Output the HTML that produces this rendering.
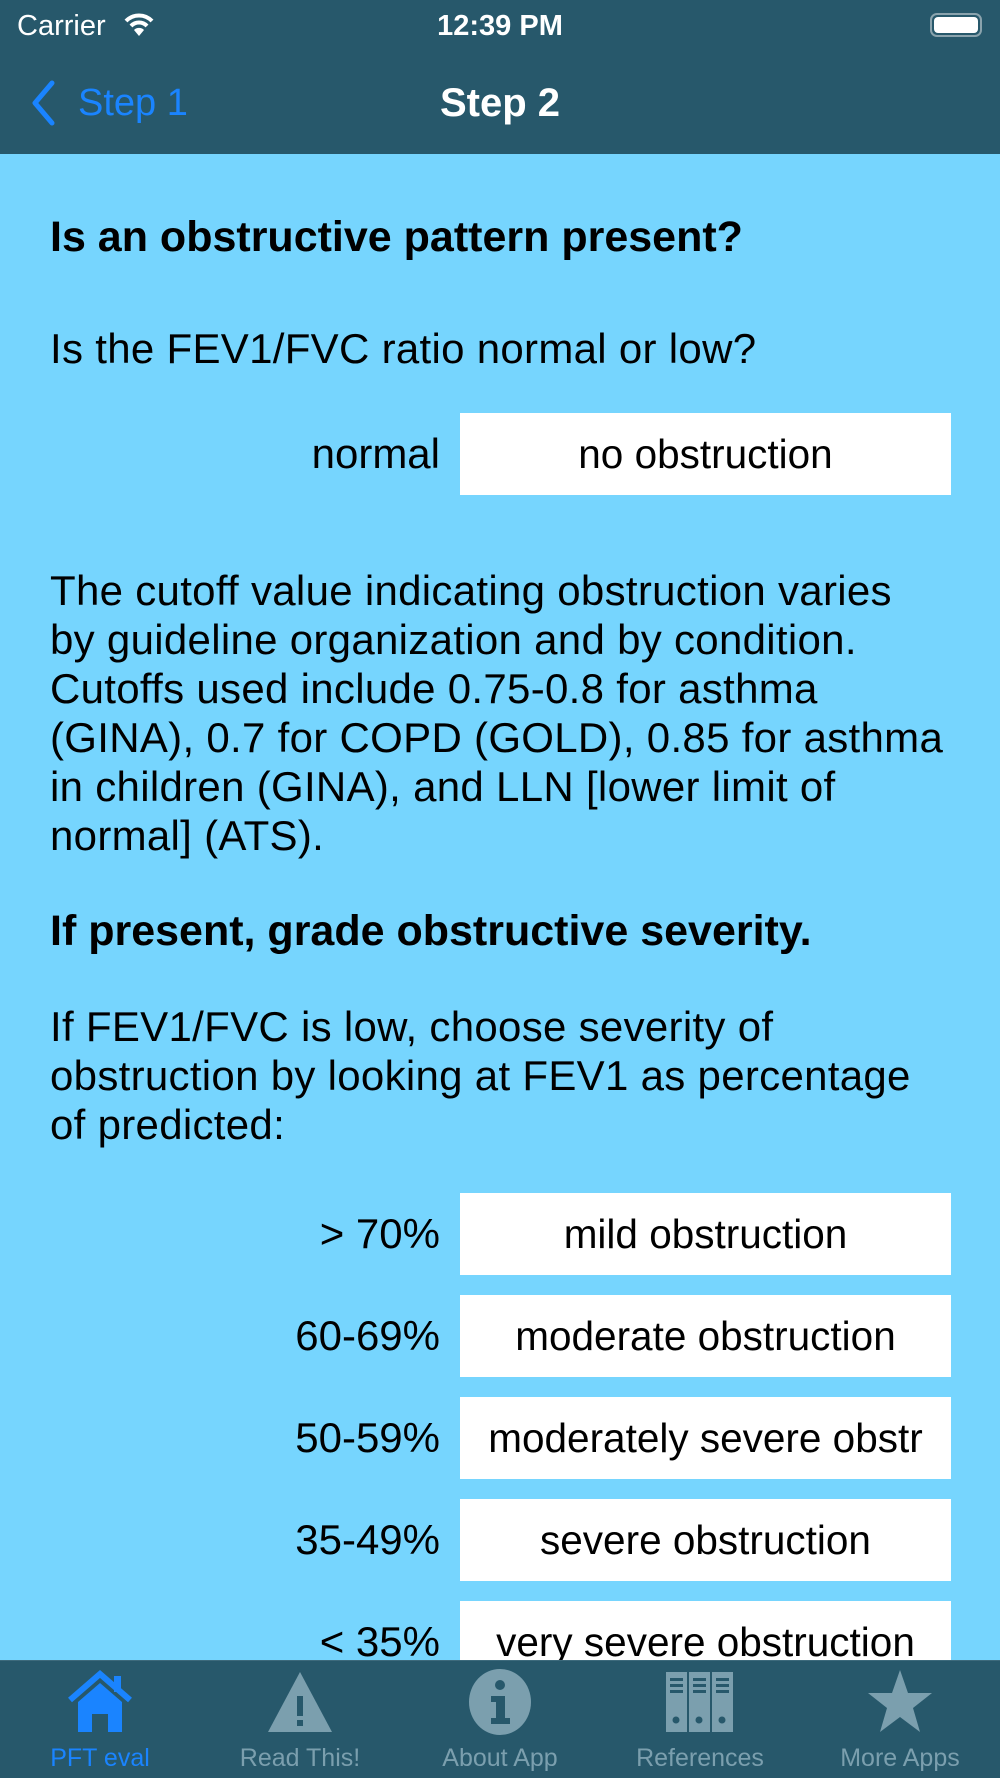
<!DOCTYPE html>
<html><head><meta charset="utf-8"><style>
*{margin:0;padding:0;box-sizing:border-box}
body{width:1000px;height:1778px;background:#76d5fe;font-family:"Liberation Sans",sans-serif;position:relative;overflow:hidden;color:#000}
.abs{position:absolute;white-space:nowrap}
#top{position:absolute;left:0;top:0;width:1000px;height:154px;background:#27586b}
#tab{position:absolute;left:0;top:1660px;width:1000px;height:118px;background:#27586b;border-top:1px solid #3d6a7c}
.p{font-size:42px;line-height:49px;left:50px;letter-spacing:0.3px}
.h{font-size:43px;font-weight:bold;left:50px;line-height:49px}
.box{position:absolute;left:460px;width:491px;height:82px;background:#fff;font-size:40.5px;text-align:center;line-height:82px}
.lab{position:absolute;right:560px;font-size:42px;line-height:82px;text-align:right}
.tl{position:absolute;top:1744px;width:200px;text-align:center;font-size:25px;color:#7b9fae}
</style></head><body>
<div id="top">
<div class="abs" style="left:17px;top:10px;font-size:29px;color:#fff">Carrier</div>
<svg class="abs" style="left:124px;top:12px" width="30" height="26" viewBox="0 0 30 26"><path d="M2 9 A18 18 0 0 1 28 9" stroke="#fff" stroke-width="4" fill="none"/><path d="M7 14 A11 11 0 0 1 23 14" stroke="#fff" stroke-width="4" fill="none"/><path d="M15 24 L10 18 A7 7 0 0 1 20 18Z" fill="#fff"/></svg>
<div class="abs" style="left:0;width:1000px;text-align:center;top:10px;font-size:29px;color:#fff;font-weight:bold">12:39 PM</div>
<div class="abs" style="left:930px;top:13px;width:52px;height:24px;border:2px solid #8aa3ad;border-radius:7px;padding:2px"><div style="width:100%;height:100%;background:#fff;border-radius:4px"></div></div>
<svg class="abs" style="left:30px;top:80px" width="26" height="46" viewBox="0 0 26 46"><path d="M22 3 L5 23 L22 43" stroke="#1a84ff" stroke-width="5" fill="none" stroke-linecap="round" stroke-linejoin="round"/></svg>
<div class="abs" style="left:78px;top:82px;font-size:38px;color:#1a84ff">Step 1</div>
<div class="abs" style="left:0;width:1000px;text-align:center;top:81px;font-size:40px;color:#fff;font-weight:bold">Step 2</div>
</div>

<div class="abs h" style="top:213px">Is an obstructive pattern present?</div>
<div class="abs p" style="top:324px">Is the FEV1/FVC ratio normal or low?</div>
<div class="lab" style="top:413px">normal</div>
<div class="box" style="top:413px">no obstruction</div>
<div class="abs p" style="top:566px">The cutoff value indicating obstruction varies<br>by guideline organization and by condition.<br>Cutoffs used include 0.75-0.8 for asthma<br>(GINA), 0.7 for COPD (GOLD), 0.85 for asthma<br>in children (GINA), and LLN [lower limit of<br>normal] (ATS).</div>
<div class="abs h" style="top:907px">If present, grade obstructive severity.</div>
<div class="abs p" style="top:1002px">If FEV1/FVC is low, choose severity of<br>obstruction by looking at FEV1 as percentage<br>of predicted:</div>
<div class="lab" style="top:1193px">&gt; 70%</div><div class="box" style="top:1193px">mild obstruction</div>
<div class="lab" style="top:1295px">60-69%</div><div class="box" style="top:1295px">moderate obstruction</div>
<div class="lab" style="top:1397px">50-59%</div><div class="box" style="top:1397px">moderately severe obstr</div>
<div class="lab" style="top:1499px">35-49%</div><div class="box" style="top:1499px">severe obstruction</div>
<div class="lab" style="top:1601px">&lt; 35%</div><div class="box" style="top:1601px">very severe obstruction</div>

<div id="tab"></div>
<svg class="abs" style="left:66px;top:1670px" width="68" height="64" viewBox="0 0 68 64"><path d="M4 30 L34 4 L64 30" stroke="#1a84ff" stroke-width="6" fill="none"/><rect x="48" y="6" width="7" height="16" fill="#1a84ff"/><path d="M12 32 L34 13 L56 32 L56 62 L42 62 L42 44 L26 44 L26 62 L12 62Z" fill="#1a84ff"/></svg>
<svg class="abs" style="left:266px;top:1670px" width="68" height="64" viewBox="0 0 68 64"><path d="M34 2 L66 62 L2 62Z" fill="#7b9fae"/><rect x="31" y="26" width="6" height="20" fill="#27586b"/><rect x="31" y="50" width="6" height="6" fill="#27586b"/></svg>
<svg class="abs" style="left:466px;top:1668px" width="68" height="68" viewBox="0 0 68 68"><ellipse cx="34" cy="34" rx="31" ry="33" fill="#7b9fae"/><circle cx="34" cy="17" r="5" fill="#27586b"/><path d="M25 28 L39 28 L39 50 L44 50 L44 56 L25 56 L25 50 L30 50 L30 34 L25 34Z" fill="#27586b"/></svg>
<svg class="abs" style="left:666px;top:1670px" width="68" height="64" viewBox="0 0 68 64"><rect x="0" y="2" width="21" height="60" fill="#7b9fae"/><rect x="23" y="2" width="21" height="60" fill="#7b9fae"/><rect x="46" y="2" width="21" height="60" fill="#7b9fae"/><g fill="#27586b"><rect x="4" y="8" width="13" height="3"/><rect x="4" y="14" width="13" height="3"/><rect x="4" y="20" width="13" height="3"/><rect x="27" y="8" width="13" height="3"/><rect x="27" y="14" width="13" height="3"/><rect x="27" y="20" width="13" height="3"/><rect x="50" y="8" width="13" height="3"/><rect x="50" y="14" width="13" height="3"/><rect x="50" y="20" width="13" height="3"/><circle cx="10" cy="50" r="3.5"/><circle cx="33" cy="50" r="3.5"/><circle cx="56" cy="50" r="3.5"/></g></svg>
<svg class="abs" style="left:866px;top:1668px" width="68" height="66" viewBox="0 0 68 66"><path d="M34 2 L42 25 L66 25 L47 40 L54 64 L34 49 L14 64 L21 40 L2 25 L26 25Z" fill="#7b9fae"/></svg>
<div class="tl" style="left:0;color:#1a84ff">PFT eval</div>
<div class="tl" style="left:200px">Read This!</div>
<div class="tl" style="left:400px">About App</div>
<div class="tl" style="left:600px">References</div>
<div class="tl" style="left:800px">More Apps</div>
</body></html>
